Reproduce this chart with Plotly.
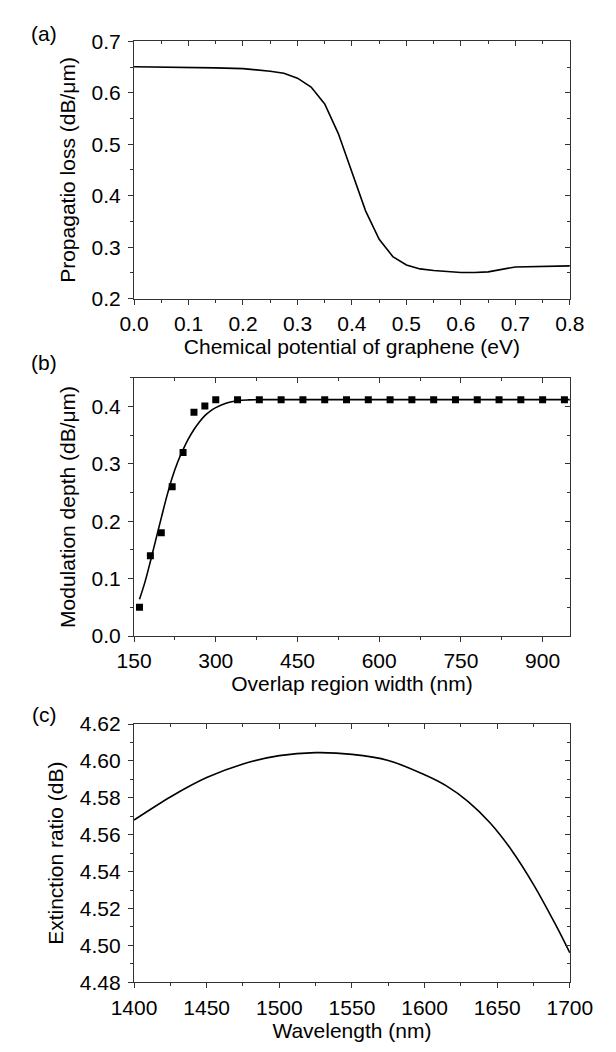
import plotly.graph_objects as go

# ---------------- data ----------------
# (a) propagation loss vs chemical potential
mu_ev = [0.0, 0.05, 0.1, 0.15, 0.2, 0.225, 0.25, 0.275, 0.3, 0.325, 0.35, 0.375,
         0.4, 0.425, 0.45, 0.475, 0.5, 0.525, 0.55, 0.575, 0.6, 0.625, 0.65,
         0.7, 0.75, 0.8]
loss_db_um = [0.6505, 0.650, 0.6495, 0.6485, 0.647, 0.645, 0.642, 0.6379, 0.6284,
              0.6113, 0.5783, 0.5207, 0.4456, 0.3705, 0.3153, 0.2817, 0.2653,
              0.2577, 0.2545, 0.2522, 0.2508, 0.2508, 0.252, 0.2615, 0.2625, 0.2635]

# (b) modulation depth vs overlap width: simulated points and fitted curve
width_pts = [160, 180, 200, 220, 240, 260, 280, 300, 340, 380, 420, 460, 500, 540,
             580, 620, 660, 700, 740, 780, 820, 860, 900, 940]
depth_pts = [0.05, 0.14, 0.18, 0.26, 0.32, 0.39, 0.401, 0.412, 0.412, 0.412, 0.412,
             0.412, 0.412, 0.412, 0.412, 0.412, 0.412, 0.412, 0.412, 0.412, 0.412,
             0.412, 0.412, 0.412]
width_fit = [160, 170, 180, 190, 200, 210, 220, 230, 240, 250, 260, 270, 280, 290,
             300, 320, 340, 360, 380, 450, 600, 750, 950]
depth_fit = [0.064, 0.094, 0.13, 0.168, 0.206, 0.243, 0.276, 0.303, 0.325, 0.344,
             0.36, 0.373, 0.384, 0.392, 0.398, 0.406, 0.410, 0.4115, 0.412, 0.412,
             0.412, 0.412, 0.412]

# (c) extinction ratio vs wavelength
wavelength_nm = [1400, 1425, 1450, 1475, 1500, 1525, 1550, 1575, 1600, 1615, 1630,
                 1645, 1660, 1675, 1690, 1700]
extinction_db = [4.568, 4.5805, 4.591, 4.5984, 4.6029, 4.6045, 4.6036, 4.6003,
                 4.5925, 4.5865, 4.578, 4.5665, 4.5515, 4.533, 4.5115, 4.496]

# ---------------- layout helpers ----------------
W, H = 616, 1052
XD = [120 / W, 591 / W]
rows_px = [(30, 293), (374, 638), (728, 992)]


def ydom(t, b):
    return [1 - b / H, 1 - t / H]


FONT = "Liberation Sans, Arial, Helvetica, sans-serif"
LINE = "#333333"
FS = 21

fig = go.Figure()

fig.add_trace(go.Scatter(x=mu_ev, y=loss_db_um, mode="lines",
                         line=dict(color="black", width=1.6),
                         xaxis="x", yaxis="y", showlegend=False))
fig.add_trace(go.Scatter(x=width_fit, y=depth_fit, mode="lines",
                         line=dict(color="black", width=1.6, shape="spline"),
                         xaxis="x2", yaxis="y2", showlegend=False))
fig.add_trace(go.Scatter(x=width_pts, y=depth_pts, mode="markers",
                         marker=dict(symbol="square", size=7, color="black"),
                         xaxis="x2", yaxis="y2", showlegend=False))
fig.add_trace(go.Scatter(x=wavelength_nm, y=extinction_db, mode="lines",
                         line=dict(color="black", width=1.6, shape="spline", smoothing=0.8),
                         xaxis="x3", yaxis="y3", showlegend=False))

panels = [
    dict(xr=[0, 0.8], x0=0, xd=0.1, xm=0.05, xf=".1f", yr=[0.2, 0.7], yd=0.1, ym=0.05, yf=".1f",
         xt="Chemical potential of graphene (eV)", yt="Propagatio loss (dB/\u03bcm)"),
    dict(xr=[150, 950], x0=150, xd=150, xm=75, xf="d", yr=[0, 0.45], yd=0.1, ym=0.05, yf=".1f",
         xt="Overlap region width (nm)", yt="Modulation depth (dB/\u03bcm)"),
    dict(xr=[1400, 1700], x0=1400, xd=50, xm=25, xf="d", yr=[4.48, 4.62], yd=0.02, ym=0.01, yf=".2f",
         xt="Wavelength (nm)", yt="Extinction ratio (dB)"),
]

lay = {}
for i, p in enumerate(panels):
    n = i + 1
    sfx = "" if n == 1 else str(n)
    t, b = rows_px[i]
    yd = ydom(t, b)
    fnt = dict(family=FONT, size=FS, color="black")
    lay["xaxis" + sfx] = dict(
        domain=XD, anchor="y" + sfx, range=p["xr"], dtick=p["xd"], tick0=p["x0"],
        tickformat=p["xf"], ticks="outside", ticklen=5, tickwidth=1, tickcolor=LINE,
        minor=dict(dtick=p["xm"], tick0=p["x0"], ticks="outside", ticklen=3, tickcolor=LINE),
        showline=True, linecolor=LINE, linewidth=1.2, showgrid=False, zeroline=False,
        tickfont=fnt, ticklabelstandoff=1,
        title=dict(text=p["xt"], font=fnt, standoff=4),
        fixedrange=True,
    )
    lay["yaxis" + sfx] = dict(
        domain=yd, anchor="x" + sfx, range=p["yr"], dtick=p["yd"], tick0=p["yr"][0],
        tickformat=p["yf"], ticks="outside", ticklen=5, tickwidth=1, tickcolor=LINE,
        minor=dict(dtick=p["ym"], tick0=p["yr"][0], ticks="outside", ticklen=3, tickcolor=LINE),
        showline=True, linecolor=LINE, linewidth=1.2, showgrid=False, zeroline=False,
        tickfont=fnt, ticklabelstandoff=3,
        title=dict(text=p["yt"], font=fnt, standoff=10),
        fixedrange=True,
    )
    # mirrored frame with inward ticks (top / right)
    ox = str(n + 3)
    lay["xaxis" + ox] = dict(
        domain=XD, overlaying="x" + sfx, anchor="y" + ox, side="top", range=p["xr"],
        dtick=p["xd"], tick0=p["x0"], ticks="inside", ticklen=5, tickcolor=LINE,
        minor=dict(dtick=p["xm"], tick0=p["x0"], ticks="inside", ticklen=3, tickcolor=LINE),
        showticklabels=False, showline=True, linecolor=LINE, linewidth=1.2,
        showgrid=False, zeroline=False, fixedrange=True,
    )
    lay["yaxis" + ox] = dict(
        domain=yd, overlaying="y" + sfx, anchor="x" + ox, side="right", range=p["yr"],
        dtick=p["yd"], tick0=p["yr"][0], ticks="inside", ticklen=5, tickcolor=LINE,
        minor=dict(dtick=p["ym"], tick0=p["yr"][0], ticks="inside", ticklen=3, tickcolor=LINE),
        showticklabels=False, showline=True, linecolor=LINE, linewidth=1.2,
        showgrid=False, zeroline=False, fixedrange=True,
    )
    fig.add_trace(go.Scatter(x=[], y=[], xaxis="x" + ox, yaxis="y" + ox,
                             showlegend=False, hoverinfo="skip"))

labels = ["(a)", "(b)", "(c)"]
label_y = [22, 358, 718]
annotations = [dict(text=s, x=23 / W, y=1 - yy / H, xref="paper", yref="paper",
                    xanchor="center", yanchor="middle", showarrow=False,
                    font=dict(family=FONT, size=FS, color="black"))
               for s, yy in zip(labels, label_y)]

fig.update_layout(
    width=W, height=H, margin=dict(l=0, r=0, t=0, b=0),
    paper_bgcolor="white", plot_bgcolor="white",
    annotations=annotations, showlegend=False,
    font=dict(family=FONT, size=FS, color="black"),
    **lay,
)

fig.write_html("out.html")
